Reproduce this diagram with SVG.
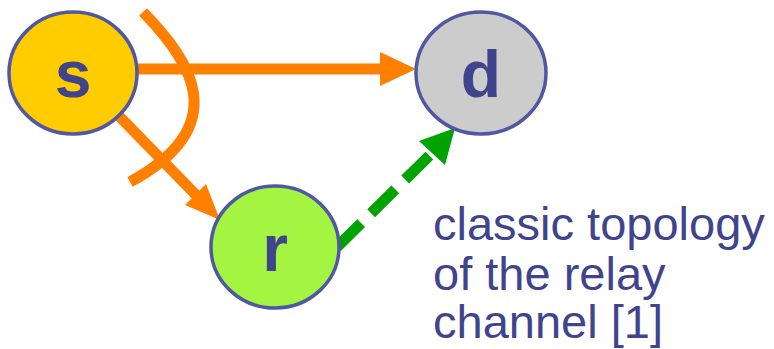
<svg xmlns="http://www.w3.org/2000/svg" width="774" height="349" viewBox="0 0 774 349">
<style>
.node{stroke:#4f58a0;stroke-width:3.5}
.lbl{font-family:"Liberation Sans",Arial,sans-serif;font-weight:bold;font-size:66px;fill:#3f448c;text-anchor:middle}
.cap{font-family:"Liberation Sans",Arial,sans-serif;font-size:47px;fill:#3f448c}
.or{stroke:#ff7f00;stroke-width:11;fill:none}
.gr{stroke:#00a300;stroke-width:11;fill:none;stroke-dasharray:34 14}
</style>
<rect width="774" height="349" fill="#fff"/>
<g id="connectors">
<path class="or" d="M143,12 C190,60 235,125 130,182"/>
<line class="or" x1="137" y1="69" x2="385" y2="69"/>
<polygon points="416,69 380,52 380,86" fill="#ff7f00"/>
<line class="or" x1="118" y1="115" x2="198" y2="197"/>
<polygon points="220,220 185,205 206,184" fill="#ff7f00"/>
<line class="gr" x1="337" y1="247" x2="432" y2="153"/>
<polygon points="455,128 419,141 445,165" fill="#00a300"/>
</g>
<g id="node-s">
<ellipse class="node" cx="73" cy="73" rx="64" ry="61" fill="#ffcc00"/>
<text class="lbl" x="73" y="97">s</text>
</g>
<g id="node-d">
<ellipse class="node" cx="481" cy="73" rx="65" ry="61" fill="#cccccc"/>
<text class="lbl" x="481" y="97">d</text>
</g>
<g id="node-r">
<ellipse class="node" cx="275" cy="247" rx="64" ry="61" fill="#a3f542"/>
<text class="lbl" x="275" y="271">r</text>
</g>
<g id="caption">
<text class="cap" x="433" y="240">classic topology</text>
<text class="cap" x="433" y="290">of the relay</text>
<text class="cap" x="433" y="338">channel [1]</text>
</g>
</svg>
